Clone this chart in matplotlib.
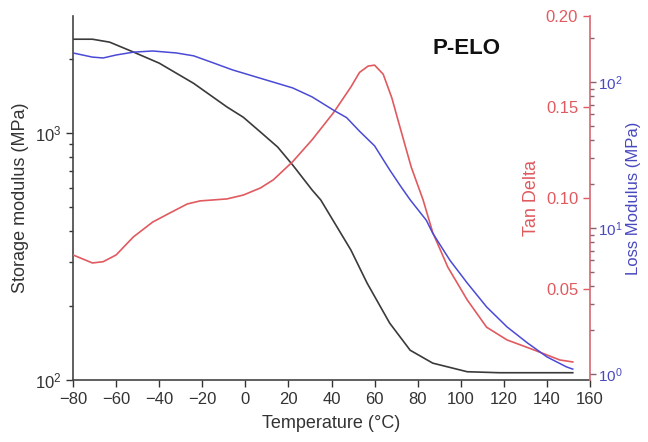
import matplotlib
matplotlib.use("Agg")
import matplotlib.pyplot as plt
from matplotlib.ticker import FormatStrFormatter, NullFormatter, LogLocator

plt.rcParams['font.family'] = ['Liberation Sans', 'DejaVu Sans']

# storage modulus E' (MPa)
storage_T = [-80, -71, -63, -52, -40, -24, -8.5, -1, 7, 15, 22, 31, 35, 49, 56.5,
             67, 76.5, 87, 103, 118, 135, 152]
storage = [2400, 2400, 2335, 2130, 1920, 1590, 1275, 1160, 1010, 878, 742, 588, 536,
           336, 247, 170, 132, 117, 108, 107, 107, 107]

# loss modulus E'' (MPa)
loss_T = [-80, -71, -66, -60, -52, -43, -32, -24, -16, -6, 7, 22, 31, 41, 47, 53,
          60, 67, 72, 76.5, 84, 87, 95, 103, 112, 121.5, 131, 140, 149, 152]
loss = [158, 148, 146, 153, 160, 163, 158, 151, 137, 121, 106, 91, 79, 64, 57, 46,
        36.5, 25, 19.4, 15.6, 11.3, 9.2, 6.0, 4.2, 2.88, 2.10, 1.63, 1.31, 1.12, 1.08]

# tan delta
tan_T = [-80, -71, -66, -60, -52, -43, -35, -27, -21, -8.5, -1, 7, 13, 22, 31, 41,
         49, 53, 57, 60, 64, 68, 72, 77, 82.5, 87, 94, 103, 112, 121.5, 134, 146, 152]
tan_d = [0.0687, 0.0643, 0.065, 0.0687, 0.0786, 0.0868, 0.0918, 0.0967, 0.0984,
         0.0995, 0.1016, 0.1055, 0.110, 0.120, 0.132, 0.147, 0.161, 0.169, 0.1725,
         0.173, 0.168, 0.155, 0.138, 0.117, 0.099, 0.081, 0.062, 0.044, 0.029,
         0.022, 0.0165, 0.011, 0.0099]

x_ticks = [-80, -60, -40, -20, 0, 20, 40, 60, 80, 100, 120, 140, 160]
tan_ticks = [0.05, 0.10, 0.15, 0.20]

dark = "#333333"
red = "#e05a5f"
red_axis = "#d9737d"
blue = "#4a4ad6"
blue_txt = "#4848c0"

fig = plt.figure(figsize=(6.48, 4.42), dpi=100)
ax = fig.add_axes([0.1127, 0.1403, 0.7978, 0.8235])

ax.plot(storage_T, storage, color="#3a3a3a", lw=1.2)
ax.set_yscale('log')
ax.set_xlim(-80, 160)
ax.set_ylim(100, 2980)
ax.set_xticks(x_ticks)
ax.spines['top'].set_visible(False)
ax.spines['right'].set_visible(False)
for s in ['left', 'bottom']:
    ax.spines[s].set_color("#444444")
    ax.spines[s].set_linewidth(1.2)
ax.tick_params(axis='both', which='major', labelsize=12, colors=dark, length=5, width=1)
ax.tick_params(axis='y', which='minor', length=3, width=1, colors=dark)
ax.yaxis.set_minor_formatter(NullFormatter())
ax.set_xlabel("Temperature (°C)", fontsize=13, color=dark, labelpad=6)
ax.set_ylabel("Storage modulus (MPa)", fontsize=13, color=dark, labelpad=4)

# tan delta on the right spine, ticks and labels on its inner side
ax2 = ax.twinx()
ax2.plot(tan_T, tan_d, color=red, lw=1.2)
ax2.set_ylim(0, 0.2)
ax2.yaxis.tick_left()
ax2.yaxis.set_label_position('left')
ax2.spines['left'].set_position(('axes', 1.0))
ax2.spines['left'].set_color(red_axis)
ax2.spines['left'].set_linewidth(1.3)
for s in ['right', 'top', 'bottom']:
    ax2.spines[s].set_visible(False)
ax2.set_yticks(tan_ticks)
ax2.yaxis.set_major_formatter(FormatStrFormatter('%.2f'))
ax2.tick_params(axis='y', labelsize=12, colors=red, length=5, width=1)
ax2.set_ylabel("Tan Delta", fontsize=13, color=red, labelpad=4)

# loss modulus, log scale on the outer side of the same spine
ax3 = ax.twinx()
ax3.plot(loss_T, loss, color=blue, lw=1.1)
ax3.set_yscale('log')
ax3.set_ylim(0.91, 283)
for s in ['left', 'right', 'top', 'bottom']:
    ax3.spines[s].set_visible(False)
ax3.yaxis.set_major_locator(LogLocator(base=10))
ax3.yaxis.set_minor_formatter(NullFormatter())
ax3.tick_params(axis='y', which='major', labelsize=11, labelcolor=blue_txt,
                color="#8a6070", length=4, width=1, pad=2)
ax3.tick_params(axis='y', which='minor', color="#8a6070", length=3, width=1)
ax3.set_ylabel("Loss Modulus (MPa)", fontsize=12, color=blue_txt, labelpad=2)

ax.text(102.5, 2210, "P-ELO", fontsize=16, fontweight='bold', ha='center',
        va='center', color="#111111")

fig.savefig("out.png", dpi=100)
